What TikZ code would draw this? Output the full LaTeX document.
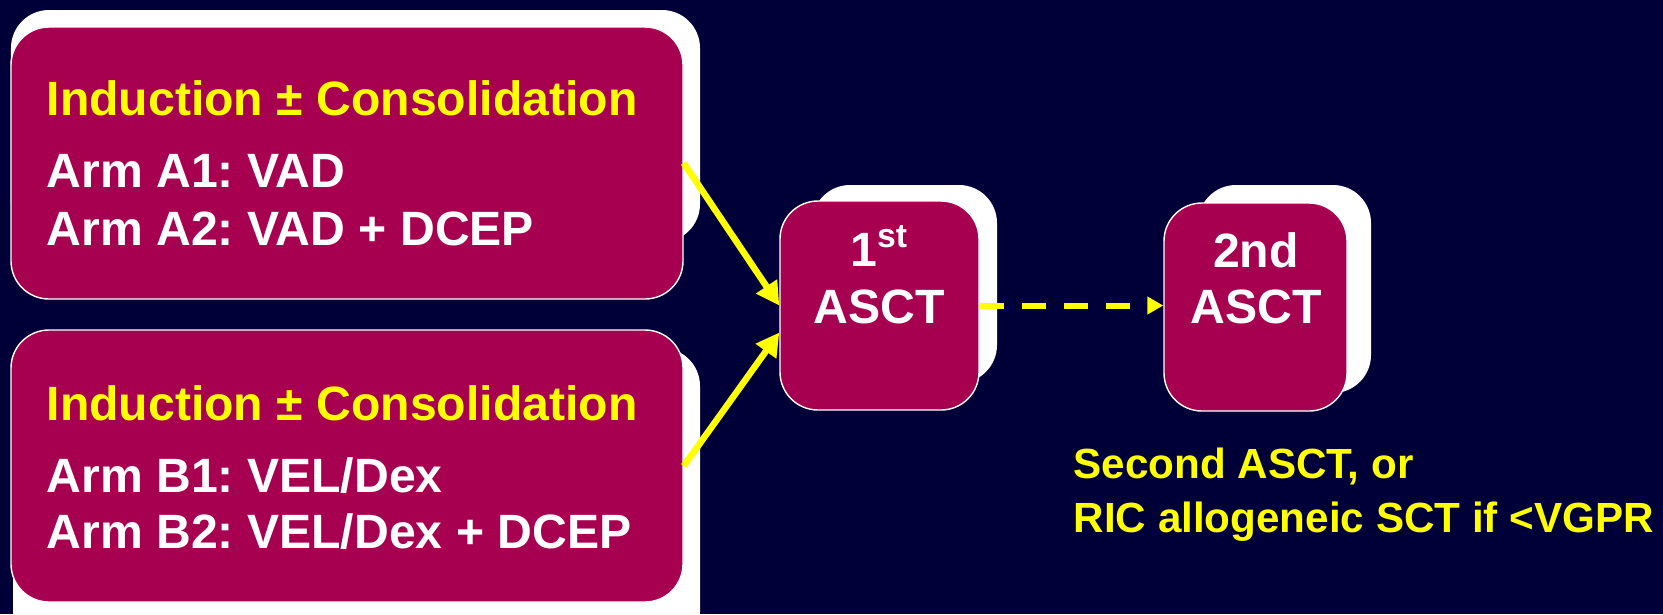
\documentclass[tikz,border=0pt]{standalone}
\usepackage{fontspec}
\setmainfont{Liberation Sans}
\usetikzlibrary{arrows.meta}
\definecolor{bgnavy}{RGB}{0,0,56}
\definecolor{boxred}{RGB}{168,0,80}
\definecolor{hiyellow}{RGB}{255,255,0}
\frenchspacing

\begin{document}
\begin{tikzpicture}[
    box/.style={rounded corners=0.38cm, fill=boxred, draw=white, line width=0.4pt, inner sep=0pt},
    backing/.style={rounded corners=0.38cm, fill=white, inner sep=0pt},
    txt/.style={inner sep=0pt, font=\fontsize{13.7}{16}\selectfont\bfseries},
    note/.style={inner sep=0pt, anchor=base west, font=\fontsize{12}{15}\selectfont\bfseries},
    arr/.style={hiyellow, line width=0.065cm, -{Triangle[length=0.23cm, width=0.24cm]}},
  ]
    \useasboundingbox (0,0) rectangle (16.63,-6.14);
    \clip (0,0) rectangle (16.63,-6.14);
    \fill[bgnavy] (0,0) rectangle (16.63,-6.14);

    % white boxes behind
    \draw node at (3.555,-1.26)[name=armAback, backing, minimum width=6.89cm, minimum height=2.32cm]{};
    \draw node at (3.565,-4.99)[name=armBback, backing, minimum width=6.87cm, minimum height=3.02cm]{};
    \draw node at (9.045,-2.84)[name=asctAback, backing, minimum width=1.85cm, minimum height=1.98cm]{};
    \draw node at (12.845,-2.89)[name=asctBback, backing, minimum width=1.73cm, minimum height=2.08cm]{};

    % the boxes
    \draw node at (3.47,-1.63)[name=armA, box, minimum width=6.72cm, minimum height=2.72cm]{};
    \draw node at (3.47,-4.66)[name=armB, box, minimum width=6.72cm, minimum height=2.72cm]{};
    \draw node at (8.795,-3.055)[name=asctA, box, minimum width=1.99cm, minimum height=2.09cm]{};
    \draw node at (12.555,-3.07)[name=asctB, box, minimum width=1.83cm, minimum height=2.08cm]{};

    \begin{scope}[hiyellow]
    \draw node at (0.46,-1.15)[name=armAhead, txt, anchor=base west]{Induction ± Consolidation};
    \draw node at (0.46,-4.20)[name=armBhead, txt, anchor=base west]{Induction ± Consolidation};
    \draw node at (10.73,-4.78)[name=noteA, note]{Second ASCT, or};
    \draw node at (10.73,-5.32)[name=noteB, note]{RIC allogeneic SCT if <VGPR};
    \end{scope}

    \begin{scope}[white]
    \draw node at (0.46,-1.87)[name=armAone, txt, anchor=base west]{Arm A1: VAD};
    \draw node at (0.46,-2.45)[name=armAtwo, txt, anchor=base west]{Arm A2: VAD + DCEP};
    \draw node at (0.46,-4.92)[name=armBone, txt, anchor=base west]{Arm B1: VEL/Dex};
    \draw node at (0.46,-5.48)[name=armBtwo, txt, anchor=base west]{Arm B2: VEL/Dex + DCEP};
    \draw node at (8.795,-2.66)[name=asctAnum, txt, anchor=base]{1\textsuperscript{st}};
    \draw node at (8.795,-3.23)[name=asctAname, txt, anchor=base]{ASCT};
    \draw node at (12.56,-2.67)[name=asctBnum, txt, anchor=base]{2nd};
    \draw node at (12.56,-3.23)[name=asctBname, txt, anchor=base]{ASCT};
    \end{scope}

    \draw[arr](armA.east) -- (asctA.west);
    \draw[arr](armB.east) -- ([yshift=-0.27cm]asctA.west);
    \draw[hiyellow, line width=0.06cm, dash pattern=on 0.24cm off 0.18cm,
      -{Triangle[length=0.16cm, width=0.17cm]}](asctA.east) -- (asctA.east -| asctB.west);
\end{tikzpicture}
\end{document}
